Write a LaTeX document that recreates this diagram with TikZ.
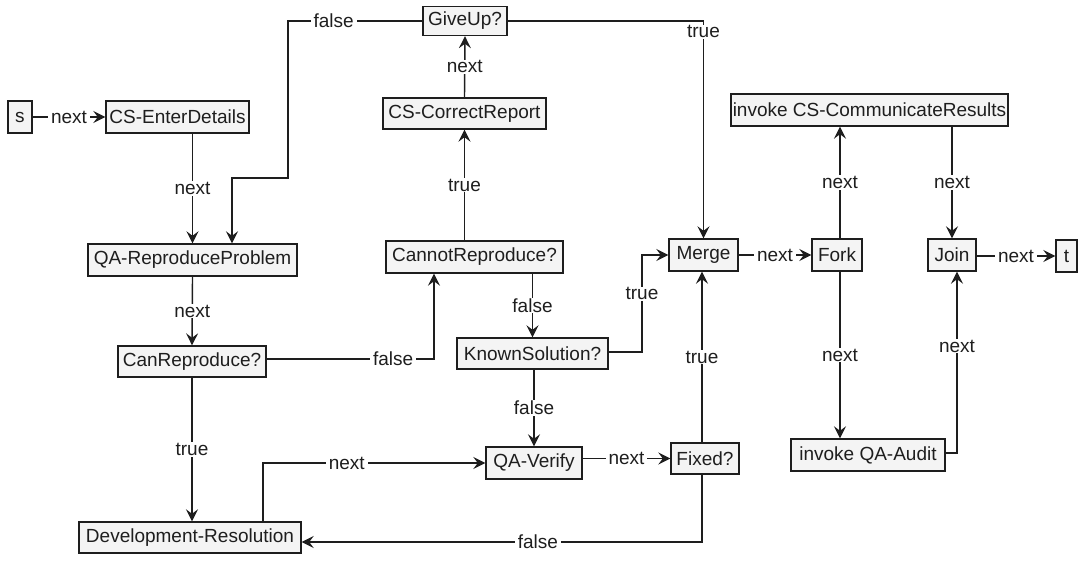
\documentclass[tikz,border=0pt]{standalone}
\usepackage{fontspec}
\setmainfont{Liberation Sans}
\usetikzlibrary{arrows.meta,calc}
\definecolor{boxfill}{HTML}{F4F4F4}
\definecolor{ink}{HTML}{1E1E1E}
\begin{document}
\begin{tikzpicture}[x=1pt,y=-1pt,
  font=\fontsize{19}{22}\selectfont,
  act/.style={draw=ink, fill=boxfill, line width=1.4pt, inner xsep=1pt, inner ysep=0pt,
              minimum height=32pt, text=ink},
  flow/.style={draw=ink, line width=1.4pt, -{Stealth[length=12pt,width=12pt,inset=4.5pt]}},
  lbl/.style={fill=white, inner xsep=3pt, inner ysep=1pt, text=ink}]
\useasboundingbox (0,0) rectangle (1081,563);

% activities and decisions
\node[act, minimum width=24pt]  (s)        at (20,117)     {s};
\node[act, minimum width=143pt] (enter)    at (177.5,117)  {CS-EnterDetails};
\node[act, minimum width=84pt, minimum height=29pt] (giveup) at (465,21) {GiveUp?};
\node[act, minimum width=163pt, minimum height=31pt] (correct) at (464.5,113.5) {CS-CorrectReport};
\node[act, minimum width=277pt] (commres)  at (869.5,110)  {invoke CS-CommunicateResults};
\node[act, minimum width=209pt] (qarep)    at (192.5,260)  {QA-ReproduceProblem};
\node[act, minimum width=148pt, minimum height=31pt] (canrep) at (192,361.5) {CanReproduce?};
\node[act, minimum width=177pt] (cannot)   at (474.5,257)  {CannotReproduce?};
\node[act, minimum width=151pt, minimum height=31pt] (known) at (532.5,353.5) {KnownSolution?};
\node[act, minimum width=69pt]  (merge)    at (703.5,255)  {Merge};
\node[act, minimum width=50pt]  (fork)     at (837,255)    {Fork};
\node[act, minimum width=48pt]  (join)     at (952,255)    {Join};
\node[act, minimum width=21pt]  (t)        at (1066.5,256) {t};
\node[act, minimum width=96pt]  (qaverify) at (534,463)    {QA-Verify};
\node[act, minimum width=68pt, minimum height=31pt] (fixed) at (705,458.5) {Fixed?};
\node[act, minimum width=222pt, minimum height=31pt] (devres) at (190,537.5) {Development-Resolution};
\node[act, minimum width=154pt] (audit)    at (868,455)    {invoke QA-Audit};

% bend points
\coordinate (g1) at (288,178);
\coordinate (g2) at (232,178);
\coordinate (cf) at (434,359);
\coordinate (kt) at (642,255);
\coordinate (dx) at (263,463);
\coordinate (ff) at (702,542);
\coordinate (fx) at (840,255);
\coordinate (jx) at (957,453);

% connectors
\draw[flow] (s.east) -- node[lbl]{next} (enter.west);
\draw[flow] (enter.south -| qarep.north) -- node[lbl]{next} (qarep.north);
\draw[flow] (giveup.west) -| node[lbl,pos=0.33]{false} (g1) -- (g2) -- (g2 |- qarep.north);
\draw[flow] (giveup.east) -| node[lbl,pos=0.525]{true} (merge.north);
\draw[flow] (correct.north) -- node[lbl]{next} (giveup.south);
\draw[flow] (cannot.north -| correct.south) -- node[lbl]{true} (correct.south);
\draw[flow] (qarep.south) -- node[lbl]{next} (canrep.north);
\draw[flow] (canrep.east |- cf) -- node[lbl,pos=0.756]{false} (cf) -- (cf |- cannot.south);
\draw[flow] (canrep.south) -- node[lbl]{true} (canrep.south |- devres.north);
\draw[flow] (cannot.south -| known.north) -- node[lbl]{false} (known.north);
\draw[flow] (known.east |- 0,352) -| node[lbl,pos=0.8]{true} (kt) -- (merge.west);
\draw[flow] (known.south -| qaverify.north) -- node[lbl]{false} (qaverify.north);
\draw[flow] (devres.north -| dx) -- (dx) -- node[lbl,pos=0.377]{next} (qaverify.west);
\draw[flow] (qaverify.east |- fixed.west) -- node[lbl]{next} (fixed.west);
\draw[flow] (fixed.north -| ff) -- node[lbl]{true} (merge.south -| ff);
\draw[flow] (fixed.south -| ff) -- (ff) -- node[lbl,pos=0.41]{false} (devres.east |- ff);
\draw[flow] (merge.east) -- node[lbl]{next} (fork.west);
\draw[flow] (fork.north -| fx) -- node[lbl]{next} (commres.south -| fx);
\draw[flow] (fork.south -| fx) -- node[lbl]{next} (audit.north -| fx);
\draw[flow] (commres.south -| join.north) -- node[lbl]{next} (join.north);
\draw[flow] (audit.east |- jx) -- (jx) -- node[lbl,pos=0.59]{next} (jx |- join.south);
\draw[flow] (join.east |- t.west) -- node[lbl]{next} (t.west);
\end{tikzpicture}
\end{document}
